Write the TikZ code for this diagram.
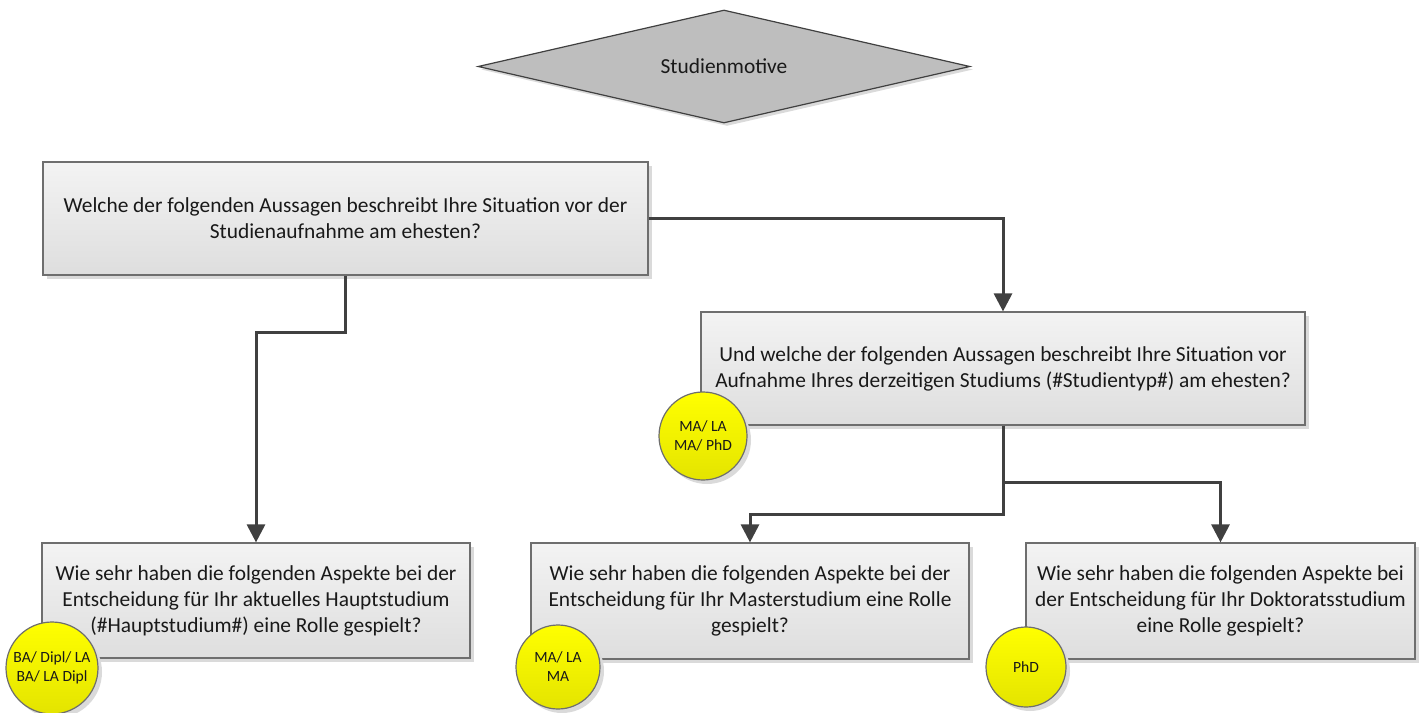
\documentclass[tikz,border=0pt]{standalone}
\usepackage{fontspec}
\setmainfont{Carlito}
\usetikzlibrary{shapes.geometric,shadows,arrows.meta}

\begin{document}
\begin{tikzpicture}[x=0.5pt,y=-0.5pt,
    frage/.style={draw=framegray, line width=0.6pt, top color=boxtop, bottom color=boxbottom,
        drop shadow={shadow xshift=2pt, shadow yshift=-2pt, fill=shadowgray, opacity=1},
        align=center, inner sep=0pt, text=textdark, font=\fontsize{10.7}{13}\selectfont},
    gruppe/.style={circle, draw=framegray, line width=0.6pt, top color=yellowtop, bottom color=yellowbottom,
        drop shadow={shadow xshift=2pt, shadow yshift=-2pt, fill=shadowgray, opacity=1},
        align=center, inner sep=0pt, text=textdark, font=\fontsize{7.8}{9.5}\selectfont},
    pfeil/.style={draw=linegray, line width=1.5pt, -{Triangle[length=9pt,width=9pt]}}]
    % Define colors
    \definecolor{framegray}{RGB}{110,110,110}
    \definecolor{boxtop}{RGB}{243,243,243}
    \definecolor{boxbottom}{RGB}{222,222,222}
    \definecolor{shadowgray}{RGB}{218,218,218}
    \definecolor{yellowtop}{RGB}{255,255,0}
    \definecolor{yellowbottom}{RGB}{228,228,0}
    \definecolor{diamondgray}{RGB}{190,190,190}
    \definecolor{linegray}{RGB}{64,64,64}
    \definecolor{textdark}{RGB}{25,25,25}

    \useasboundingbox (0,0) rectangle (1428,712);

    % Title diamond
    \node[diamond, aspect=4.3, draw=linegray, line width=0.6pt, fill=diamondgray, inner sep=0pt,
          minimum width=246pt, minimum height=56.5pt,
          drop shadow={shadow xshift=1.5pt, shadow yshift=-1.5pt, fill=shadowgray, opacity=1},
          text=textdark, font=\fontsize{10.7}{13}\selectfont] (motive) at (724,66.5) {Studienmotive};

    % Question boxes
    \node[frage, minimum width=302.5pt, minimum height=56.5pt] (situation) at (345.5,218.5)
        {Welche der folgenden Aussagen beschreibt Ihre Situation vor der\\Studienaufnahme am ehesten?};
    \node[frage, minimum width=302pt, minimum height=56.5pt] (derzeit) at (1003,368.5)
        {Und welche der folgenden Aussagen beschreibt Ihre Situation vor\\Aufnahme Ihres derzeitigen Studiums (\#Studientyp\#) am ehesten?};
    \node[frage, minimum width=214pt, minimum height=57.5pt] (haupt) at (256,600.5)
        {Wie sehr haben die folgenden Aspekte bei der\\Entscheidung für Ihr aktuelles Hauptstudium\\(\#Hauptstudium\#) eine Rolle gespielt?};
    \node[frage, minimum width=219pt, minimum height=58pt] (master) at (750,601)
        {Wie sehr haben die folgenden Aspekte bei der\\Entscheidung für Ihr Masterstudium eine Rolle\\gespielt?};
    \node[frage, minimum width=194.5pt, minimum height=58pt] (doktorat) at (1220.5,601)
        {Wie sehr haben die folgenden Aspekte bei\\der Entscheidung für Ihr Doktoratsstudium\\eine Rolle gespielt?};

    % Connectors
    \draw[pfeil] (situation.east) -| (derzeit.north);
    \draw[pfeil] (situation.south) -- ++(0,57) -| (haupt.north);
    \draw[pfeil] (derzeit.south) -- ++(0,89) -| (master.north);
    \draw[pfeil] (derzeit.south) -- ++(0,57) -| (doktorat.north);

    % Group markers
    \node[gruppe, minimum size=44pt] (grpMA) at (703,436) {MA/ LA\\MA/ PhD};
    \node[gruppe, minimum size=46pt] (grpBA) at (52,668) {BA/ Dipl/ LA\\BA/ LA Dipl};
    \node[gruppe, minimum size=42pt] (grpMaster) at (558,667) {MA/ LA\\MA};
    \node[gruppe, minimum size=40pt] (grpPhD) at (1026,667) {PhD};
\end{tikzpicture}
\end{document}
